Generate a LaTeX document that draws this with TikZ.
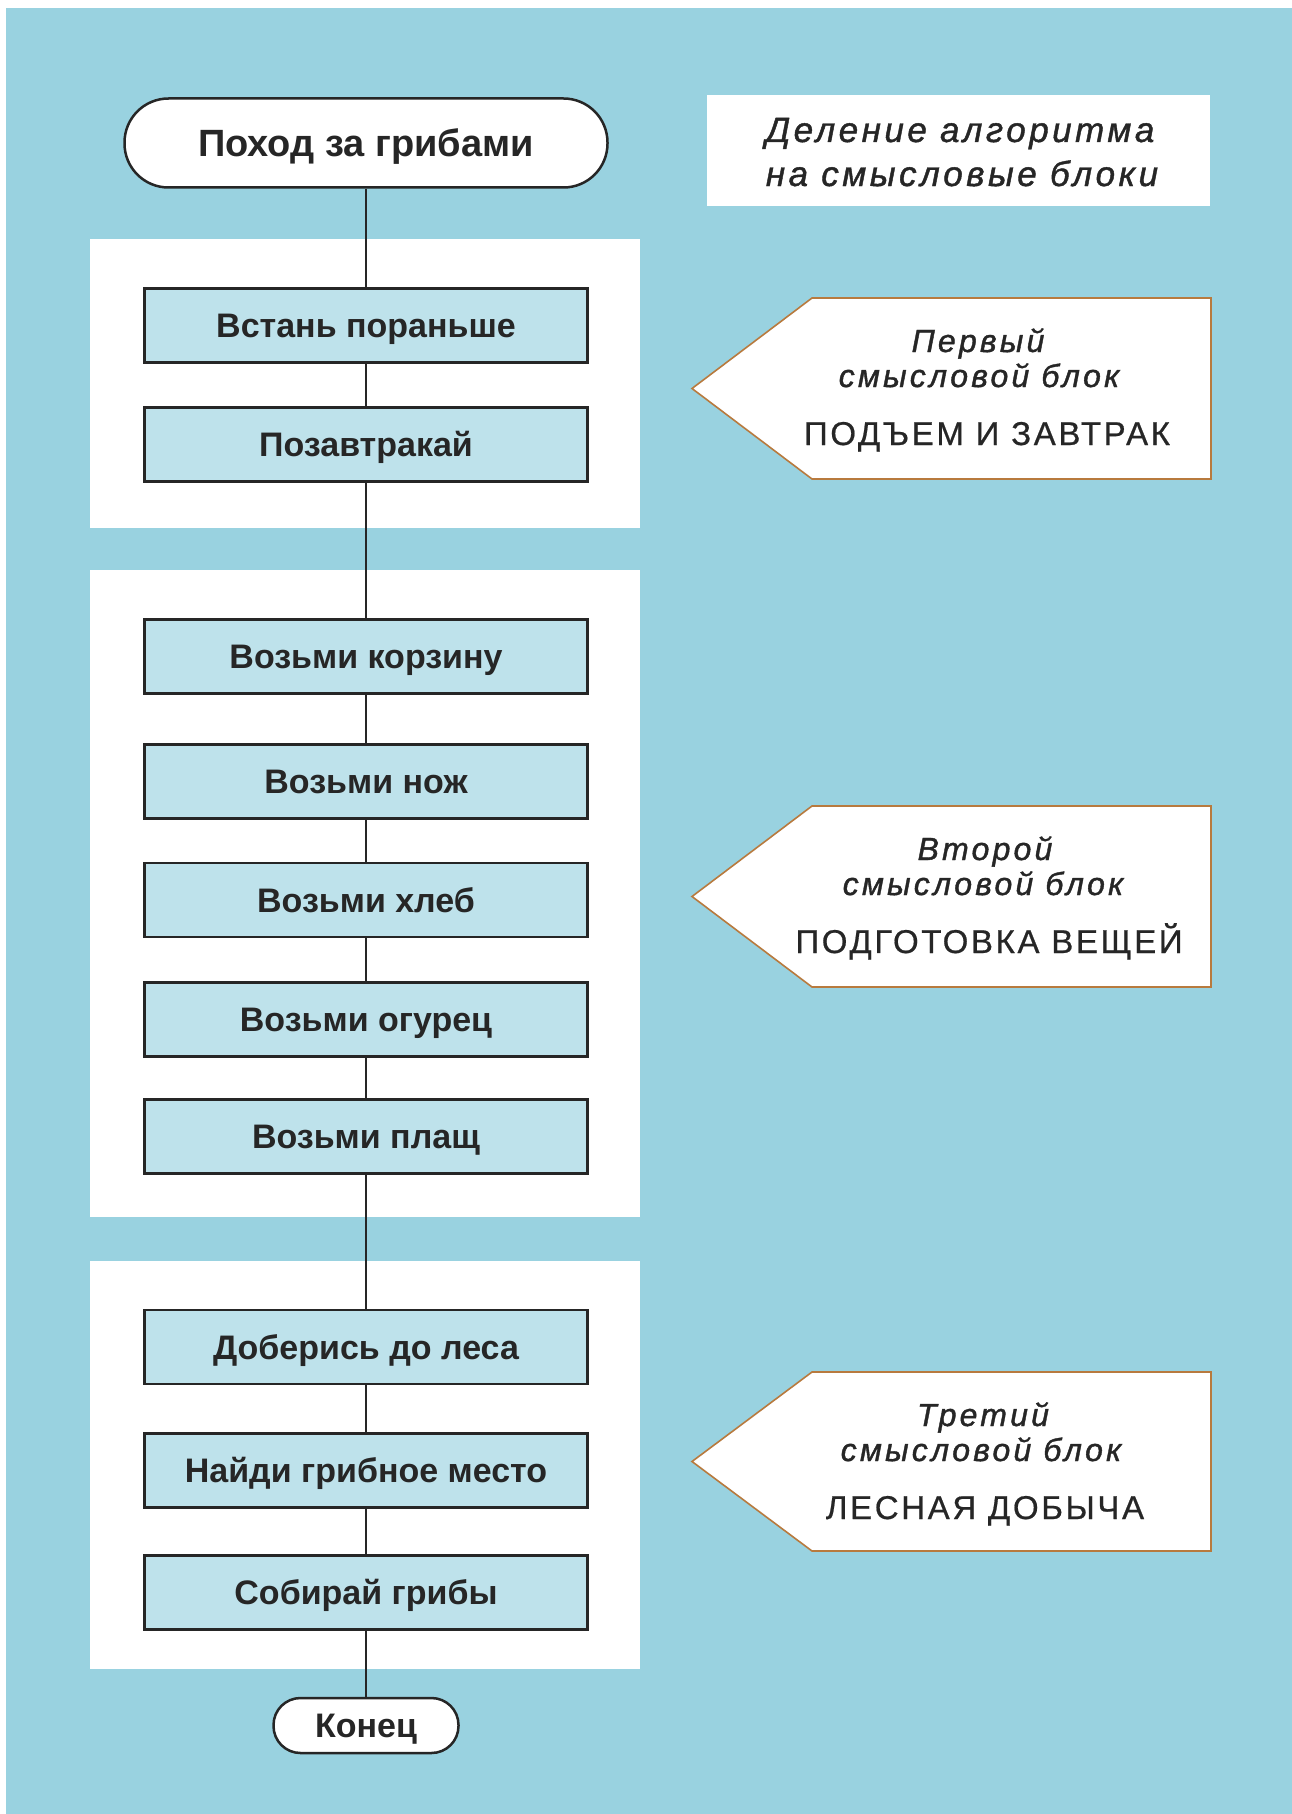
\documentclass[tikz,border=0pt]{standalone}
\usepackage{fontspec}
\setmainfont{Liberation Sans}
\newfontfamily\itfont{Liberation Sans}[LetterSpace=10,FakeBold=1.2]
\newfontfamily\capfont{Liberation Sans}[LetterSpace=8,FakeBold=0.6]
\definecolor{bgblue}{RGB}{153,210,224}
\definecolor{boxblue}{RGB}{190,226,235}
\definecolor{brd}{RGB}{184,122,62}
\definecolor{txt}{RGB}{38,38,38}
\begin{document}
\begin{tikzpicture}[x=1pt,y=-1pt,
  stepbox/.style={draw=txt, line width=2.5pt, fill=boxblue, minimum width=443pt, minimum height=74pt,
    inner sep=0pt, text=txt, font=\fontsize{34}{40}\selectfont\bfseries, text height=24.5pt, text depth=0pt},
  term/.style={draw=txt, line width=2.5pt, fill=white, inner sep=0pt, text=txt,
    font=\fontsize{34}{40}\selectfont\bfseries, text height=24.5pt, text depth=0pt},
  conn/.style={draw=txt, line width=2pt},
  panel/.style={fill=white},
  pent/.style={draw=brd, line width=1.6pt, fill=white, line join=miter},
  ittext/.style={anchor=base, text=txt, font=\fontsize{32}{38}\selectfont\itfont\itshape, inner sep=0pt},
  titletext/.style={anchor=base, text=txt, font=\fontsize{35}{40}\selectfont\itfont\itshape, inner sep=0pt},
  captext/.style={anchor=base, text=txt, font=\fontsize{33}{38}\selectfont\capfont, inner sep=0pt}
]
\useasboundingbox (0,0) rectangle (1292,1814);
\fill[white] (0,0) rectangle (1292,1814);
\fill[bgblue] (6,8) rectangle (1292,1814);

% panels
\fill[panel] (90,239) rectangle (640,528);
\fill[panel] (90,570) rectangle (640,1217);
\fill[panel] (90,1261) rectangle (640,1669);

% flow nodes
\node[term, minimum width=483pt, minimum height=89pt, rounded corners=44pt,
  font=\fontsize{38}{44}\selectfont\bfseries, text height=27pt] (start) at (366,143) {Поход за грибами};
\node[stepbox] (b1) at (366,325.5) {Встань пораньше};
\node[stepbox] (b2) at (366,444.5) {Позавтракай};
\node[stepbox] (b3) at (366,656.5) {Возьми корзину};
\node[stepbox] (b4) at (366,781.5) {Возьми нож};
\node[stepbox] (b5) at (366,900) {Возьми хлеб};
\node[stepbox] (b6) at (366,1019.5) {Возьми огурец};
\node[stepbox] (b7) at (366,1136.5) {Возьми плащ};
\node[stepbox] (b8) at (366,1347) {Доберись до леса};
\node[stepbox] (b9) at (366,1470.5) {Найди грибное место};
\node[stepbox] (b10) at (366,1592.5) {Собирай грибы};
\node[term, minimum width=185pt, minimum height=55pt, rounded corners=27pt] (end) at (366,1725.5) {Конец};

% connectors
\draw[conn] (start) -- (b1);
\draw[conn] (b1) -- (b2);
\draw[conn] (b2) -- (b3);
\draw[conn] (b3) -- (b4);
\draw[conn] (b4) -- (b5);
\draw[conn] (b5) -- (b6);
\draw[conn] (b6) -- (b7);
\draw[conn] (b7) -- (b8);
\draw[conn] (b8) -- (b9);
\draw[conn] (b9) -- (b10);
\draw[conn] (b10) -- (end);

% title box
\fill[white] (707,95) rectangle (1210,206);
\node[titletext] (t1) at (960,142) {Деление алгоритма};
\node[titletext] (t2) at (962,186) {на смысловые блоки};

% pentagon 1
\draw[pent] (1211,298) -- (812,298) -- (692,388.5) -- (812,479) -- (1211,479) -- cycle;
\node[ittext] (p1a) at (978,352) {Первый};
\node[ittext] (p1b) at (979,387) {смысловой блок};
\node[captext] (p1c) at (987,445) {ПОДЪЕМ И ЗАВТРАК};

% pentagon 2
\draw[pent] (1211,806) -- (812,806) -- (692,896.5) -- (812,987) -- (1211,987) -- cycle;
\node[ittext] (p2a) at (985,860) {Второй};
\node[ittext] (p2b) at (983,895) {смысловой блок};
\node[captext] (p2c) at (989,953) {ПОДГОТОВКА ВЕЩЕЙ};

% pentagon 3
\draw[pent] (1211,1372) -- (812,1372) -- (692,1461.5) -- (812,1551) -- (1211,1551) -- cycle;
\node[ittext] (p3a) at (983,1426) {Третий};
\node[ittext] (p3b) at (981,1461) {смысловой блок};
\node[captext] (p3c) at (985,1519) {ЛЕСНАЯ ДОБЫЧА};
\end{tikzpicture}
\end{document}
